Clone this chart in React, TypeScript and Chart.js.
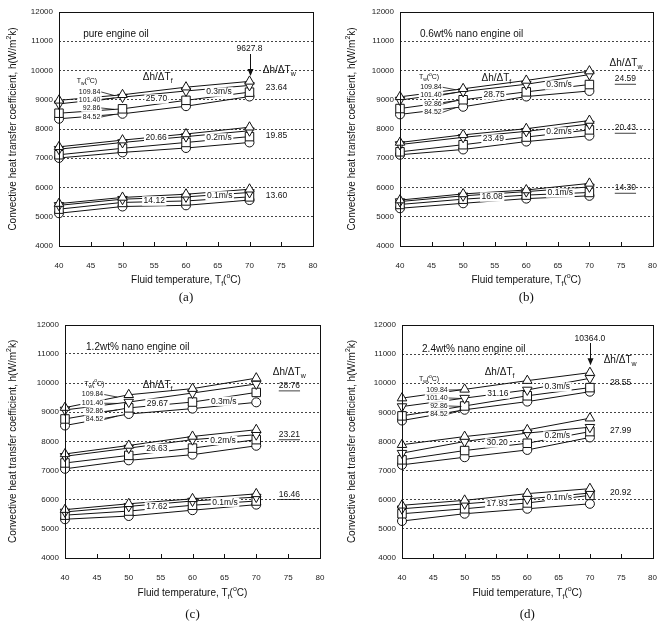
import React, { useEffect, useRef } from "react";
import { Chart, registerables } from "chart.js";
Chart.register(...registerables);

// ---------- data ----------
const temps = [40, 50, 60, 70];
const xTicks = [40, 45, 50, 55, 60, 65, 70, 75, 80];
const yTicks = [4000, 5000, 6000, 7000, 8000, 9000, 10000, 11000, 12000];
const wallTemps = ["109.84", "101.40", "92.86", "84.52"];
const velocities = ["0.1m/s", "0.2m/s", "0.3m/s"];

// order of rows: Tw = 109.84, 101.40, 92.86, 84.52
const pure01 = [[5450, 5660, 5770, 5940], [5390, 5600, 5680, 5830], [5260, 5490, 5540, 5680], [5120, 5350, 5390, 5570]];
const pure02 = [[7390, 7620, 7830, 8060], [7310, 7540, 7740, 7940], [7120, 7340, 7540, 7740], [7010, 7200, 7350, 7540]];
const pure03 = [[8980, 9170, 9430, 9628], [8860, 9090, 9300, 9490], [8540, 8690, 8980, 9260], [8350, 8520, 8780, 9110]];

const nano06_01 = [[5570, 5780, 5915, 6140], [5520, 5715, 5860, 6020], [5420, 5600, 5740, 5830], [5290, 5460, 5620, 5715]];
const nano06_02 = [[7540, 7800, 8010, 8290], [7470, 7715, 7920, 8170], [7220, 7463, 7725, 7970], [7120, 7300, 7570, 7770]];
const nano06_03 = [[9100, 9375, 9660, 9980], [8990, 9280, 9530, 9860], [8700, 9000, 9270, 9520], [8500, 8760, 9110, 9300]];

const nano12_01 = [[5660, 5860, 6030, 6200], [5580, 5770, 5955, 6090], [5470, 5610, 5810, 5955], [5330, 5440, 5640, 5830]];
const nano12_02 = [[7570, 7860, 8170, 8400], [7490, 7770, 8060, 8230], [7260, 7520, 7770, 8060], [7060, 7350, 7545, 7850]];
const nano12_03 = [[9160, 9600, 9810, 10170], [9080, 9350, 9660, 9970], [8770, 9150, 9350, 9680], [8545, 8940, 9125, 9340]];

const nano24_01 = [[5810, 5980, 6210, 6380], [5690, 5860, 6030, 6230], [5520, 5690, 5890, 6150], [5270, 5520, 5690, 5860]];
const nano24_02 = [[7890, 8170, 8400, 8800], [7600, 8000, 8290, 8490], [7370, 7690, 7940, 8340], [7200, 7460, 7710, 8140]];
const nano24_03 = [[9490, 9790, 10090, 10364], [9200, 9490, 9770, 10170], [8880, 9220, 9570, 9850], [8720, 9090, 9370, 9710]];

const slopeF_a = ["14.12", "20.66", "25.70"];
const slopeW_a = ["13.60", "19.85", "23.64"];
const slopeF_b = ["16.08", "23.49", "28.75"];
const slopeW_b = ["14.30", "20.43", "24.59"];
const slopeF_c = ["17.62", "26.63", "29.67"];
const slopeW_c = ["16.46", "23.21", "28.76"];
const slopeF_d = ["17.93", "30.20", "31.16"];
const slopeW_d = ["20.92", "27.99", "28.55"];

const titles = ["pure engine oil", "0.6wt% nano engine oil", "1.2wt% nano engine oil", "2.4wt% nano engine oil"];
const captions = ["(a)", "(b)", "(c)", "(d)"];

// ---------- style ----------
const SANS = '"Liberation Sans", Arial, Helvetica, sans-serif';
const SERIF = '"Liberation Serif", "Times New Roman", serif';
const INK = "#111";
const W = 332;
const H = 314;

const markerStyles = [
  { pointStyle: "triangle", rot: 0, r: 5.5 },
  { pointStyle: "triangle", rot: 180, r: 5.5 },
  { pointStyle: "rect", rot: 0, r: 6 },
  { pointStyle: "circle", rot: 0, r: 4.5 },
];

type Panel = {
  left: number; top: number;
  box: { l: number; t: number; r: number; b: number };
  yTitleX: number; xTitleY: number; capY: number;
  title: string; caption: string; titlePos: number[];
  groups: number[][][];
  slopeF: string[]; slopeFPos: number[][];
  velPos: number[][];
  slopeW: string[]; slopeWPos: number[][]; underline: boolean;
  dfPos: number[]; dwPos: number[];
  twPos: number[]; taRight: number; taY: number[];
  peak?: { text: string; x: number; y: number; from: number; to: number };
};

const panels: Panel[] = [
  {
    left: 0, top: 0, box: { l: 59, t: 12, r: 313, b: 246 }, yTitleX: 13, xTitleY: 280, capY: 298,
    title: titles[0], caption: captions[0], titlePos: [43.8, 11238],
    groups: [pure01, pure02, pure03],
    slopeF: slopeF_a, slopeFPos: [[55.0, 5538], [55.3, 7692], [55.35, 9025]],
    velPos: [[65.3, 5709], [65.2, 7692], [65.2, 9265]],
    slopeW: slopeW_a, slopeWPos: [[74.25, 5709], [74.25, 7771], [74.25, 9402]], underline: false,
    dfPos: [53.2, 9778], dwPos: [72.1, 10017],
    twPos: [42.8, 9641], taRight: 46.5, taY: [9265, 8991, 8718, 8410],
    peak: { text: "9627.8", x: 70, y: 10735, from: 10564, to: 9810 },
  },
  {
    left: W, top: 0, box: { l: 68, t: 12, r: 322, b: 246 }, yTitleX: 20, xTitleY: 280, capY: 298,
    title: titles[1], caption: captions[1], titlePos: [43.15, 11248],
    groups: [nano06_01, nano06_02, nano06_03],
    slopeF: slopeF_b, slopeFPos: [[54.6, 5675], [54.8, 7658], [54.9, 9162]],
    velPos: [[65.4, 5812], [65.2, 7897], [65.2, 9504]],
    slopeW: slopeW_b, slopeWPos: [[75.7, 5983], [75.7, 8034], [75.7, 9709]], underline: true,
    dfPos: [52.9, 9743], dwPos: [73.2, 10256],
    twPos: [43.0, 9778], taRight: 46.6, taY: [9426, 9162, 8854, 8571],
  },
  {
    left: 0, top: H, box: { l: 65, t: 10, r: 320, b: 244 }, yTitleX: 13, xTitleY: 279, capY: 301,
    title: titles[2], caption: captions[2], titlePos: [43.3, 11214],
    groups: [nano12_01, nano12_02, nano12_03],
    slopeF: slopeF_c, slopeFPos: [[54.4, 5753], [54.4, 7760], [54.5, 9309]],
    velPos: [[65.1, 5914], [64.8, 8034], [64.9, 9378]],
    slopeW: slopeW_c, slopeWPos: [[75.2, 6188], [75.2, 8239], [75.2, 9914]], underline: true,
    dfPos: [52.2, 9914], dwPos: [72.6, 10369],
    twPos: [43.0, 9983], taRight: 46.0, taY: [9607, 9309, 9025, 8752],
  },
  {
    left: W, top: H, box: { l: 70, t: 11, r: 322, b: 244 }, yTitleX: 20, xTitleY: 279, capY: 301,
    title: titles[3], caption: captions[3], titlePos: [43.2, 11176],
    groups: [nano24_01, nano24_02, nano24_03],
    slopeF: slopeF_d, slopeFPos: [[55.2, 5855], [55.2, 7949], [55.3, 9631]],
    velPos: [[65.1, 6061], [64.8, 8189], [64.8, 9872]],
    slopeW: slopeW_d, slopeWPos: [[74.9, 6233], [74.9, 8361], [74.9, 10009]], underline: false,
    dfPos: [53.2, 10387], dwPos: [72.2, 10798],
    twPos: [42.7, 10146], taRight: 47.3, taY: [9769, 9494, 9219, 8945],
    peak: { text: "10364.0", x: 70, y: 11519, from: 11382, to: 10620 },
  },
];

// ---------- rich text helpers ----------
type Part = { t: string; k: "n" | "sub" | "sup" };
function parseRich(s: string): Part[] {
  const out: Part[] = [];
  const re = /(_\{[^}]*\}|\^\{[^}]*\})/g;
  let last = 0;
  let m: RegExpExecArray | null;
  while ((m = re.exec(s))) {
    if (m.index > last) out.push({ t: s.slice(last, m.index), k: "n" });
    out.push({ t: m[0].slice(2, -1), k: m[0][0] === "_" ? "sub" : "sup" });
    last = m.index + m[0].length;
  }
  if (last < s.length) out.push({ t: s.slice(last), k: "n" });
  return out;
}

function drawRich(ctx: CanvasRenderingContext2D, s: string, x: number, y: number, size: number,
  align: "left" | "center" | "right", opts: { bg?: boolean; underline?: boolean; family?: string } = {}) {
  const fam = opts.family || SANS;
  const parts = parseRich(s);
  let w = 0;
  const widths: number[] = [];
  for (const p of parts) {
    ctx.font = `${p.k === "n" ? size : size * 0.7}px ${fam}`;
    const pw = ctx.measureText(p.t).width;
    widths.push(pw);
    w += pw;
  }
  let cx = align === "left" ? x : align === "center" ? x - w / 2 : x - w;
  const left = cx;
  if (opts.bg) {
    ctx.fillStyle = "#fff";
    ctx.fillRect(left - 1.5, y - size * 0.55, w + 3, size * 1.1);
  }
  ctx.fillStyle = INK;
  ctx.textBaseline = "middle";
  ctx.textAlign = "left";
  parts.forEach((p, i) => {
    ctx.font = `${p.k === "n" ? size : size * 0.7}px ${fam}`;
    const dy = p.k === "sub" ? size * 0.38 : p.k === "sup" ? -size * 0.4 : 0;
    ctx.fillText(p.t, cx, y + dy);
    cx += widths[i];
  });
  if (opts.underline) {
    ctx.strokeStyle = INK;
    ctx.lineWidth = 0.8;
    ctx.beginPath();
    ctx.moveTo(left, y + size * 0.62);
    ctx.lineTo(left + w, y + size * 0.62);
    ctx.stroke();
  }
  return { left, width: w };
}

function makePlugin(p: Panel) {
  return {
    id: "annot",
    afterDatasetsDraw(chart: any) {
      const ctx: CanvasRenderingContext2D = chart.ctx;
      const xs = chart.scales.x;
      const ys = chart.scales.y;
      const X = (v: number) => xs.getPixelForValue(v);
      const Y = (v: number) => ys.getPixelForValue(v);
      const ca = chart.chartArea;
      ctx.save();
      // frame
      ctx.strokeStyle = INK;
      ctx.lineWidth = 1;
      ctx.strokeRect(Math.round(ca.left) + 0.5, Math.round(ca.top) + 0.5,
        Math.round(ca.right - ca.left), Math.round(ca.bottom - ca.top));
      // inward ticks on x axis
      ctx.beginPath();
      xTicks.forEach((v) => {
        const px = Math.round(X(v)) + 0.5;
        ctx.moveTo(px, ca.bottom);
        ctx.lineTo(px, ca.bottom - 4);
      });
      ctx.stroke();

      // panel title
      drawRich(ctx, p.title, X(p.titlePos[0]), Y(p.titlePos[1]), 10, "left");
      // Tw header and labels
      drawRich(ctx, "T_{w}(^{o}C)", X(p.twPos[0]), Y(p.twPos[1]), 7, "left");
      const top = p.groups[2];
      wallTemps.forEach((lab, i) => {
        const r = drawRich(ctx, lab, X(p.taRight), Y(p.taY[i]), 7, "right", { bg: true });
        const tx = p.taRight + 2.2;
        const s = top[i];
        const ty = s[0] + (s[1] - s[0]) * (tx - temps[0]) / (temps[1] - temps[0]);
        ctx.strokeStyle = INK;
        ctx.lineWidth = 0.8;
        ctx.beginPath();
        ctx.moveTo(r.left + r.width + 1, Y(p.taY[i]));
        ctx.lineTo(X(tx), Y(ty));
        ctx.stroke();
      });
      // dh/dTf and dh/dTw headers
      drawRich(ctx, "Δh/ΔT_{f}", X(p.dfPos[0]), Y(p.dfPos[1]), 10, "left");
      drawRich(ctx, "Δh/ΔT_{w}", X(p.dwPos[0]), Y(p.dwPos[1]), 10, "left");
      // group labels
      for (let g = 0; g < 3; g++) {
        drawRich(ctx, p.slopeF[g], X(p.slopeFPos[g][0]), Y(p.slopeFPos[g][1]), 8.5, "center", { bg: true });
        drawRich(ctx, velocities[g], X(p.velPos[g][0]), Y(p.velPos[g][1]), 8.5, "center", { bg: true });
        drawRich(ctx, p.slopeW[g], X(p.slopeWPos[g][0]), Y(p.slopeWPos[g][1]), 8.5, "center", { underline: p.underline });
      }
      // peak arrow
      if (p.peak) {
        const pk = p.peak;
        drawRich(ctx, pk.text, X(pk.x), Y(pk.y), 8.5, "center");
        const ax = Math.round(X(pk.x)) + 0.5;
        const y1 = Y(pk.from), y2 = Y(pk.to);
        ctx.strokeStyle = INK;
        ctx.fillStyle = INK;
        ctx.lineWidth = 1;
        ctx.beginPath();
        ctx.moveTo(ax, y1);
        ctx.lineTo(ax, y2 - 5);
        ctx.stroke();
        ctx.beginPath();
        ctx.moveTo(ax - 3, y2 - 7);
        ctx.lineTo(ax + 3, y2 - 7);
        ctx.lineTo(ax, y2);
        ctx.closePath();
        ctx.fill();
      }
      // axis titles
      const cxm = (ca.left + ca.right) / 2;
      drawRich(ctx, "Fluid temperature, T_{f}(^{o}C)", cxm, p.xTitleY, 10, "center");
      ctx.save();
      ctx.translate(p.yTitleX, (ca.top + ca.bottom) / 2);
      ctx.rotate(-Math.PI / 2);
      drawRich(ctx, "Convective heat transfer coefficient, h(W/m^{2}k)", 0, 0, 10, "center");
      ctx.restore();
      // caption
      drawRich(ctx, p.caption, cxm, p.capY, 13, "center", { family: SERIF });
      ctx.restore();
    },
  };
}

function PanelChart({ p }: { p: Panel }) {
  const ref = useRef<HTMLCanvasElement>(null);
  useEffect(() => {
    const datasets: any[] = [];
    p.groups.forEach((grp) => {
      grp.forEach((series, i) => {
        const m = markerStyles[i];
        datasets.push({
          data: series.map((v, j) => ({ x: temps[j], y: v })),
          borderColor: INK,
          borderWidth: 1,
          pointStyle: m.pointStyle,
          pointRotation: m.rot,
          pointRadius: m.r,
          pointHoverRadius: m.r,
          pointBackgroundColor: "#fff",
          pointBorderColor: INK,
          pointBorderWidth: 1,
          tension: 0,
          fill: false,
          clip: false,
        });
      });
    });
    const chart = new Chart(ref.current!, {
      type: "line",
      data: { datasets },
      options: {
        animation: false,
        responsive: false,
        events: [],
        layout: { padding: { left: 0, top: p.box.t, right: W - p.box.r, bottom: 0 } },
        plugins: { legend: { display: false }, tooltip: { enabled: false }, title: { display: false } },
        scales: {
          x: {
            type: "linear",
            min: xTicks[0],
            max: xTicks[xTicks.length - 1],
            afterBuildTicks: (s: any) => { s.ticks = xTicks.map((v) => ({ value: v })); },
            afterFit: (s: any) => { s.height = H - p.box.b; },
            grid: { display: false },
            border: { display: false },
            ticks: { color: "#222", padding: 7, maxRotation: 0, font: { size: 8, family: SANS }, callback: (v: any) => String(v) },
          },
          y: {
            type: "linear",
            min: yTicks[0],
            max: yTicks[yTicks.length - 1],
            afterBuildTicks: (s: any) => { s.ticks = yTicks.map((v) => ({ value: v })); },
            afterFit: (s: any) => { s.width = p.box.l; },
            grid: {
              drawTicks: false,
              lineWidth: 1,
              color: (c: any) => (c.tick && (c.tick.value === yTicks[0] || c.tick.value === yTicks[yTicks.length - 1]) ? "rgba(0,0,0,0)" : "#444"),
            },
            border: { display: false, dash: [2, 2] },
            ticks: { color: "#222", padding: 6, font: { size: 8, family: SANS }, callback: (v: any) => String(v) },
          },
        },
      },
      plugins: [makePlugin(p)],
    } as any);
    return () => chart.destroy();
  }, []);
  return (
    <canvas ref={ref} width={W} height={H}
      style={{ position: "absolute", left: p.left, top: p.top, width: W, height: H }} />
  );
}

export default function App() {
  return (
    <div style={{ position: "absolute", left: 0, top: 0, width: 664, height: 628, background: "#fff" }}>
      {panels.map((p, i) => <PanelChart key={i} p={p} />)}
    </div>
  );
}
